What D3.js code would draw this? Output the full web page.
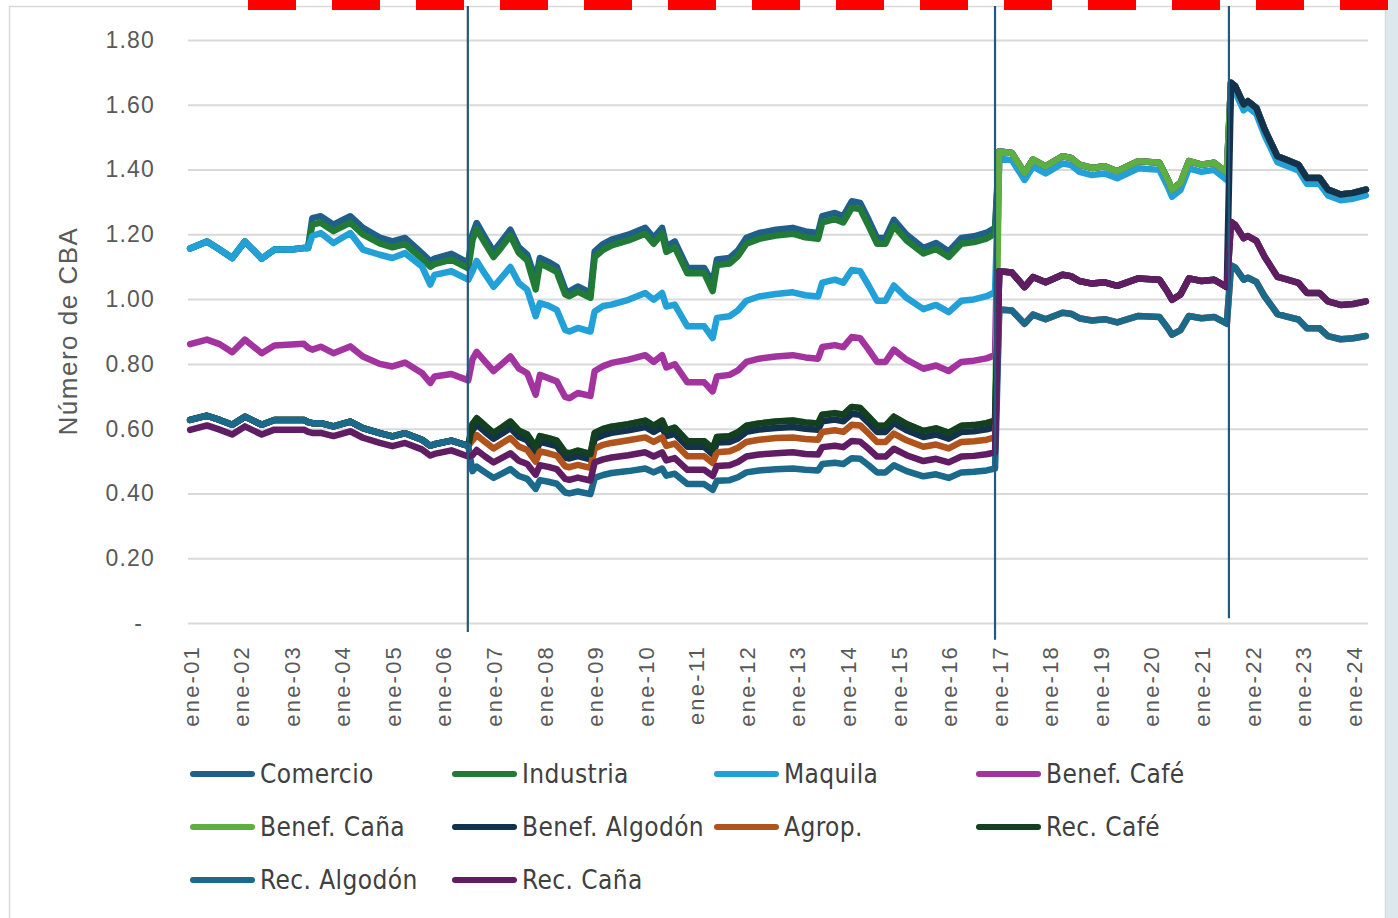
<!DOCTYPE html>
<html>
<head>
<meta charset="utf-8">
<script src="https://cdn.jsdelivr.net/npm/d3@7"></script>
<style>
  body { margin: 0; background: #fff; }
  svg { display: block; }
</style>
</head>
<body>
<svg id="chart" width="1398" height="918"></svg>
<script>
// ---- data ----
const fechas = [
  '2001-01','2001-05','2001-08','2001-11','2002-02','2002-06','2002-09','2003-01','2003-04','2003-05',
  '2003-06','2003-08','2003-11','2004-03','2004-06','2004-10','2005-01','2005-04','2005-08','2005-10',
  '2005-11','2006-03','2006-07',
  '2006-08','2006-09','2006-11','2007-01','2007-03','2007-05','2007-07','2007-09','2007-11','2007-12',
  '2008-02','2008-04','2008-06','2008-07','2008-09','2008-12','2009-01','2009-03','2009-05','2009-09',
  '2010-01','2010-03','2010-05','2010-06','2010-08','2010-11','2011-03','2011-05','2011-06','2011-09',
  '2011-11','2012-01','2012-04','2012-08','2012-12','2013-03','2013-06','2013-07','2013-10','2013-12',
  '2014-02','2014-04','2014-06','2014-08','2014-10','2014-12','2015-03','2015-07','2015-10','2016-01',
  '2016-04','2016-07','2016-10','2016-12',
  '2017-01','2017-04','2017-07','2017-09','2017-12','2018-04','2018-06','2018-08','2018-11','2019-02',
  '2019-05','2019-10','2020-03','2020-05','2020-06','2020-08','2020-10','2021-01','2021-04','2021-07',
  '2021-08','2021-09','2021-11','2021-12','2022-02','2022-04','2022-07','2022-09','2022-12','2023-02',
  '2023-05','2023-07','2023-10','2024-01','2024-04'
];

// 2001-01 .. 2006-07
const A_comercio  = [1.156,1.178,1.153,1.127,1.178,1.125,1.153,1.153,1.158,1.158,1.250,1.256,1.230,1.256,1.220,1.190,1.178,1.189,1.142,1.117,1.125,1.140,1.112];
const A_industria = [1.156,1.178,1.153,1.127,1.178,1.125,1.153,1.153,1.158,1.158,1.230,1.236,1.210,1.236,1.200,1.172,1.160,1.170,1.125,1.100,1.108,1.122,1.095];
const A_maquila   = [1.156,1.178,1.153,1.127,1.178,1.125,1.153,1.153,1.158,1.158,1.195,1.204,1.173,1.204,1.153,1.137,1.127,1.142,1.101,1.045,1.075,1.086,1.060];
const A_cafe      = [0.861,0.875,0.861,0.836,0.875,0.833,0.857,0.860,0.862,0.850,0.844,0.853,0.833,0.854,0.823,0.800,0.792,0.804,0.772,0.741,0.761,0.769,0.749];
const A_bajo      = [0.627,0.640,0.627,0.612,0.637,0.612,0.627,0.627,0.627,0.620,0.617,0.617,0.607,0.622,0.602,0.586,0.576,0.586,0.566,0.547,0.552,0.563,0.547];
const A_cana      = [0.596,0.610,0.597,0.582,0.607,0.582,0.597,0.597,0.597,0.590,0.587,0.587,0.577,0.592,0.572,0.556,0.546,0.556,0.536,0.517,0.522,0.533,0.514];

// 2006-08 .. 2016-12
const B_comercio = [1.200,1.235,1.190,1.147,1.180,1.214,1.160,1.137,1.060,1.127,1.115,1.100,1.030,1.024,1.039,1.019,
  1.147,1.170,1.184,1.199,1.220,1.189,1.220,1.163,1.178,1.096,1.096,1.050,1.122,1.127,1.150,
  1.189,1.204,1.214,1.220,1.209,1.204,1.256,1.266,1.256,1.302,1.297,1.245,1.189,1.189,1.245,1.199,1.158,1.173,1.147,1.189,1.194,1.205,1.220];
const B_industria = [1.182,1.216,1.172,1.130,1.162,1.196,1.143,1.120,1.030,1.110,1.098,1.084,1.015,1.009,1.023,1.004,
  1.130,1.152,1.166,1.181,1.202,1.171,1.202,1.146,1.160,1.080,1.080,1.025,1.105,1.110,1.133,
  1.171,1.186,1.196,1.202,1.191,1.186,1.237,1.247,1.237,1.282,1.278,1.226,1.171,1.171,1.226,1.181,1.141,1.155,1.130,1.171,1.176,1.187,1.202];
const B_maquila = [1.086,1.118,1.077,1.038,1.068,1.099,1.050,1.029,0.947,0.988,0.980,0.967,0.905,0.900,0.911,0.900,
  0.962,0.979,0.983,0.998,1.019,0.998,1.019,0.977,0.983,0.916,0.916,0.880,0.942,0.947,0.965,
  0.995,1.008,1.016,1.021,1.012,1.008,1.051,1.060,1.051,1.090,1.086,1.042,0.995,0.995,1.042,1.004,0.969,0.982,0.960,0.995,0.999,1.009,1.021];
const B_cafe = [0.814,0.837,0.807,0.778,0.800,0.823,0.786,0.771,0.705,0.766,0.756,0.746,0.698,0.694,0.710,0.701,
  0.778,0.793,0.803,0.813,0.827,0.806,0.827,0.789,0.799,0.743,0.743,0.715,0.761,0.766,0.780,
  0.806,0.816,0.823,0.827,0.820,0.816,0.852,0.858,0.852,0.883,0.879,0.844,0.806,0.806,0.844,0.813,0.785,0.795,0.778,0.806,0.810,0.817,0.827];
const B_recCafe = [0.614,0.632,0.609,0.587,0.604,0.622,0.594,0.582,0.543,0.577,0.571,0.563,0.527,0.524,0.532,0.522,
  0.587,0.599,0.606,0.614,0.625,0.609,0.625,0.595,0.603,0.561,0.561,0.538,0.574,0.577,0.589,
  0.609,0.616,0.622,0.625,0.619,0.616,0.643,0.648,0.643,0.667,0.664,0.637,0.609,0.609,0.637,0.614,0.593,0.601,0.587,0.609,0.611,0.617,0.625];
const B_algodon = [0.595,0.613,0.590,0.569,0.585,0.602,0.575,0.564,0.526,0.559,0.553,0.546,0.511,0.508,0.515,0.505,
  0.569,0.580,0.587,0.595,0.605,0.590,0.605,0.577,0.584,0.544,0.544,0.521,0.557,0.559,0.570,
  0.590,0.597,0.602,0.605,0.600,0.597,0.623,0.628,0.623,0.646,0.643,0.618,0.590,0.590,0.618,0.595,0.574,0.582,0.569,0.590,0.592,0.598,0.605];
const B_agrop = [0.564,0.580,0.559,0.539,0.555,0.571,0.545,0.534,0.498,0.530,0.524,0.517,0.484,0.481,0.488,0.479,
  0.539,0.550,0.556,0.564,0.573,0.559,0.573,0.547,0.554,0.515,0.515,0.494,0.527,0.530,0.541,
  0.559,0.566,0.571,0.573,0.568,0.566,0.590,0.595,0.590,0.612,0.610,0.585,0.559,0.559,0.585,0.564,0.544,0.551,0.539,0.559,0.561,0.566,0.573];
const B_recCana = [0.518,0.534,0.514,0.496,0.510,0.524,0.501,0.491,0.458,0.487,0.482,0.475,0.445,0.442,0.449,0.440,
  0.496,0.505,0.511,0.518,0.527,0.514,0.527,0.502,0.509,0.473,0.473,0.454,0.485,0.487,0.497,
  0.514,0.520,0.524,0.527,0.522,0.520,0.543,0.547,0.543,0.562,0.560,0.538,0.514,0.514,0.538,0.518,0.500,0.507,0.496,0.514,0.516,0.521,0.527];
const B_recAlgodon = [0.469,0.483,0.465,0.448,0.461,0.475,0.454,0.445,0.414,0.441,0.436,0.430,0.403,0.400,0.406,0.398,
  0.448,0.457,0.463,0.469,0.477,0.465,0.477,0.455,0.461,0.429,0.429,0.411,0.439,0.441,0.450,
  0.465,0.471,0.475,0.477,0.473,0.471,0.491,0.495,0.491,0.509,0.507,0.487,0.465,0.465,0.487,0.469,0.453,0.459,0.448,0.465,0.467,0.471,0.477];

// 2017-01 .. 2021-07
const C_alto    = [1.456,1.451,1.390,1.431,1.410,1.441,1.436,1.415,1.405,1.410,1.395,1.426,1.421,1.369,1.338,1.359,1.426,1.415,1.421,1.390];
const C_maquila = [1.434,1.429,1.368,1.409,1.388,1.419,1.414,1.393,1.383,1.388,1.373,1.404,1.399,1.347,1.316,1.337,1.404,1.393,1.399,1.368];
const C_medio   = [1.086,1.082,1.037,1.068,1.052,1.075,1.071,1.056,1.048,1.052,1.041,1.064,1.060,1.021,0.998,1.014,1.064,1.056,1.060,1.037];
const C_bajo    = [0.968,0.965,0.924,0.952,0.938,0.958,0.955,0.941,0.934,0.938,0.928,0.948,0.945,0.910,0.890,0.904,0.948,0.941,0.945,0.924];

// 2021-08 .. 2024-04
const D_alto    = [1.668,1.657,1.601,1.611,1.590,1.523,1.441,1.431,1.415,1.374,1.374,1.338,1.323,1.328,1.338];
const D_maquila = [1.650,1.639,1.583,1.593,1.572,1.505,1.423,1.413,1.397,1.356,1.356,1.320,1.305,1.310,1.320];
const D_medio   = [1.238,1.229,1.188,1.195,1.180,1.130,1.069,1.062,1.050,1.019,1.019,0.993,0.982,0.985,0.993];
const D_bajo    = [1.104,1.097,1.060,1.066,1.053,1.008,0.954,0.947,0.937,0.910,0.910,0.886,0.876,0.879,0.886];

const sectores = ['Comercio','Industria','Maquila','Benef. Café','Benef. Caña','Benef. Algodón','Agrop.','Rec. Café','Rec. Algodón','Rec. Caña'];
const colores  = ['#215f8b','#217a36','#22a0d8','#a2339f','#5cb03f','#13324e','#b0531d','#143f21','#1b6a8c','#611d63'];
const valores = [
  [...A_comercio,  ...B_comercio,   ...C_alto,    ...D_alto],
  [...A_industria, ...B_industria,  ...C_alto,    ...D_alto],
  [...A_maquila,   ...B_maquila,    ...C_maquila, ...D_maquila],
  [...A_cafe,      ...B_cafe,       ...C_alto,    ...D_alto],
  [...A_bajo,      ...B_recCafe,    ...C_alto,    ...D_alto],
  [...A_bajo,      ...B_algodon,    ...C_medio,   ...D_alto],
  [...A_bajo,      ...B_agrop,      ...C_bajo,    ...D_bajo],
  [...A_bajo,      ...B_recCafe,    ...C_medio,   ...D_medio],
  [...A_bajo,      ...B_recAlgodon, ...C_bajo,    ...D_bajo],
  [...A_cana,      ...B_recCana,    ...C_medio,   ...D_medio]
];

const yTicks = [0, 0.2, 0.4, 0.6, 0.8, 1.0, 1.2, 1.4, 1.6, 1.8];
const xLabels = ['ene-01','ene-02','ene-03','ene-04','ene-05','ene-06','ene-07','ene-08','ene-09','ene-10','ene-11','ene-12',
  'ene-13','ene-14','ene-15','ene-16','ene-17','ene-18','ene-19','ene-20','ene-21','ene-22','ene-23','ene-24'];

// vertical reference lines: month index and value range
const cortes = [
  { mes: 65.9,  desde: -0.028, hasta: 1.905 },
  { mes: 191.0, desde: -0.052, hasta: 1.905 },
  { mes: 246.5, desde: 0.015,  hasta: 1.905 }
];

// ---- drawing ----
const mesIdx = s => (+s.slice(0, 4) - 2001) * 12 + (+s.slice(5, 7) - 1);
const meses = fechas.map(mesIdx);
valores.forEach((v, i) => { if (v.length !== meses.length) throw new Error(sectores[i] + ' ' + v.length); });

const svg = d3.select('#chart');
const plotLeft = 188, plotRight = 1368, plotBottom = 623, plotTop = 40;

const x = d3.scaleLinear().domain([-0.5, 279.5]).range([plotLeft, plotRight]);
const y = d3.scaleLinear().domain([0, 1.8]).range([plotBottom, plotTop]);

// frame and decorations
svg.append('rect').attr('width', 1398).attr('height', 918).attr('fill', '#fff');
svg.append('rect')
  .attr('x', 9.5).attr('y', 6.5).attr('width', 1376).attr('height', 940)
  .attr('fill', 'none').attr('stroke', '#d9d9d9').attr('stroke-width', 1.5);
svg.append('rect').attr('x', 1386).attr('y', 0).attr('width', 12).attr('height', 918).attr('fill', '#dce8ee');
svg.append('line')
  .attr('x1', 248).attr('x2', 1388).attr('y1', 5).attr('y2', 5)
  .attr('stroke', '#ff0000').attr('stroke-width', 10).attr('stroke-dasharray', '48,36');

// y axis with gridlines
const yAxis = svg.append('g')
  .attr('transform', 'translate(' + plotLeft + ',0)')
  .call(d3.axisLeft(y)
    .tickValues(yTicks)
    .tickSize(-(plotRight - plotLeft))
    .tickPadding(33)
    .tickFormat(d => d === 0 ? '-' : d3.format('.2f')(d)));
yAxis.select('.domain').remove();
yAxis.selectAll('.tick line').attr('stroke', '#d9d9d9').attr('stroke-width', 2);
yAxis.selectAll('.tick text')
  .attr('fill', '#595959')
  .style('font-family', '"Liberation Sans", Arial, sans-serif')
  .style('font-size', '23px')
  .style('letter-spacing', '1.2px')
  .attr('dx', d => d === 0 ? -12 : 0);

// x axis labels
const xAxis = svg.append('g')
  .attr('transform', 'translate(0,' + plotBottom + ')')
  .call(d3.axisBottom(x)
    .tickValues(d3.range(0, 280, 12))
    .tickSize(0)
    .tickFormat(d => xLabels[d / 12]));
xAxis.select('.domain').remove();
xAxis.selectAll('.tick text')
  .attr('transform', 'rotate(-90)')
  .attr('text-anchor', 'end')
  .attr('x', -22).attr('y', 0).attr('dy', '0.36em')
  .attr('fill', '#595959')
  .style('font-family', '"Liberation Sans", Arial, sans-serif')
  .style('font-size', '22px')
  .style('letter-spacing', '2.2px');

// y title
svg.append('text')
  .attr('transform', 'translate(68,331) rotate(-90)')
  .attr('text-anchor', 'middle')
  .attr('dy', '0.35em')
  .attr('fill', '#595959')
  .style('font-family', '"Liberation Sans", Arial, sans-serif')
  .style('font-size', '26px')
  .style('letter-spacing', '1.5px')
  .text('Número de CBA');

// series
const line = d3.line()
  .x((d, i) => x(meses[i]))
  .y(d => y(d));

svg.append('g')
  .selectAll('path')
  .data(valores)
  .join('path')
  .attr('d', d => line(d))
  .attr('fill', 'none')
  .attr('stroke', (d, i) => colores[i])
  .attr('stroke-width', 6.5)
  .attr('stroke-linejoin', 'round')
  .attr('stroke-linecap', 'round');

// reference lines
svg.append('g')
  .selectAll('line')
  .data(cortes)
  .join('line')
  .attr('x1', d => x(d.mes)).attr('x2', d => x(d.mes))
  .attr('y1', d => y(d.hasta)).attr('y2', d => y(d.desde))
  .attr('stroke', '#215a7c')
  .attr('stroke-width', 2.2);

// legend
const legend = svg.append('g')
  .selectAll('g')
  .data(sectores)
  .join('g')
  .attr('transform', (d, i) => 'translate(' + (190 + (i % 4) * 262) + ',' + (774 + Math.floor(i / 4) * 53) + ')');
legend.append('line')
  .attr('x1', 3).attr('x2', 62)
  .attr('stroke', (d, i) => colores[i])
  .attr('stroke-width', 6)
  .attr('stroke-linecap', 'round');
legend.append('text')
  .attr('x', 70)
  .attr('dy', '0.36em')
  .attr('fill', '#404040')
  .style('font-family', '"Liberation Sans Narrow", "Arial Narrow", "DejaVu Sans Condensed", sans-serif')
  .style('font-size', '26px')
  .style('letter-spacing', '0.4px')
  .text(d => d);
</script>
</body>
</html>
